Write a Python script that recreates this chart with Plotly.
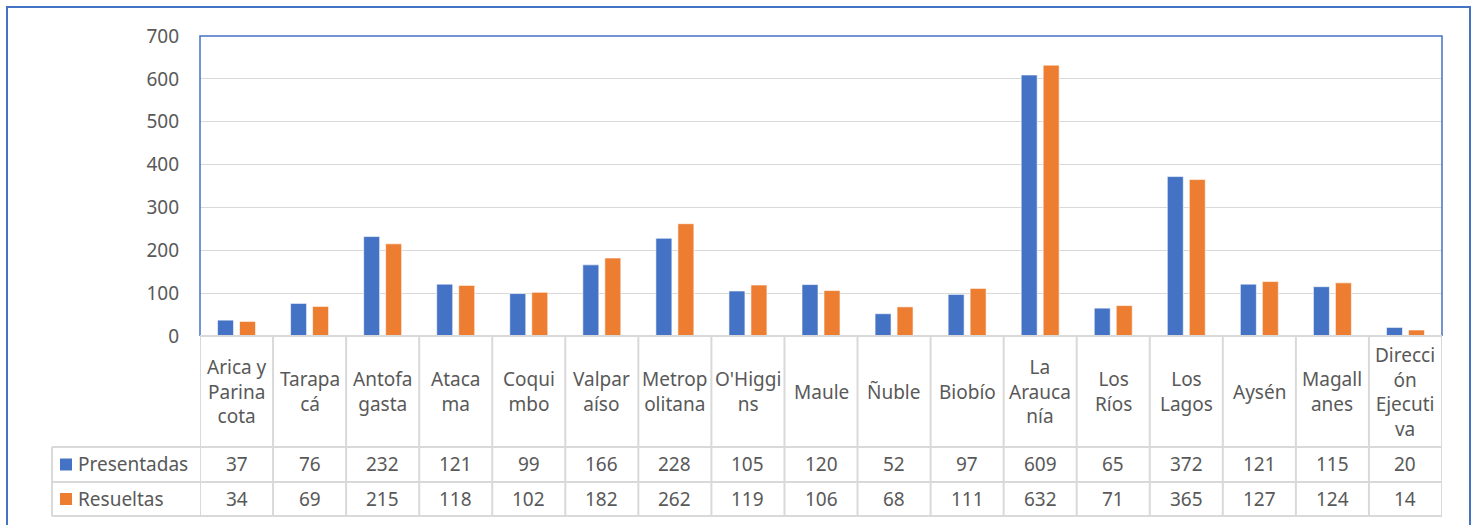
import plotly.graph_objects as go

categories = ["Arica y Parinacota", "Tarapacá", "Antofagasta", "Atacama", "Coquimbo",
              "Valparaíso", "Metropolitana", "O'Higgins", "Maule", "Ñuble", "Biobío",
              "La Araucanía", "Los Ríos", "Los Lagos", "Aysén", "Magallanes",
              "Dirección Ejecutiva"]
category_labels = ["Arica y<br>Parina<br>cota", "Tarapa<br>cá", "Antofa<br>gasta", "Ataca<br>ma",
                   "Coqui<br>mbo", "Valpar<br>aíso", "Metrop<br>olitana", "O'Higgi<br>ns", "Maule",
                   "Ñuble", "Biobío", "La<br>Arauca<br>nía", "Los<br>Ríos", "Los<br>Lagos", "Aysén",
                   "Magall<br>anes", "Direcci<br>ón<br>Ejecuti<br>va"]
presentadas = [37, 76, 232, 121, 99, 166, 228, 105, 120, 52, 97, 609, 65, 372, 121, 115, 20]
resueltas = [34, 69, 215, 118, 102, 182, 262, 119, 106, 68, 111, 632, 71, 365, 127, 124, 14]
series_names = ["Presentadas", "Resueltas"]
y_ticks = [0, 100, 200, 300, 400, 500, 600, 700]

BLUE = "#4472C4"
ORANGE = "#ED7D31"
GRID = "#D9D9D9"
TEXT = "#595959"
FONT = "Noto Sans"
FS = 19

W, H = 1477, 525
ML, MR, MT, MB = 200, 35, 36, 189
PW = W - ML - MR
PH = H - MT - MB


def px_x(x):
    return (x - ML) / PW


def px_y(y):
    return (H - MB - y) / PH


fig = go.Figure()
fig.add_bar(x=categories, y=presentadas, name=series_names[0], marker_color=BLUE,
            marker_line=dict(color="white", width=0.6))
fig.add_bar(x=categories, y=resueltas, name=series_names[1], marker_color=ORANGE,
            marker_line=dict(color="white", width=0.6))

shapes = []
annotations = []

# plot area border (left, top, right) in blue
shapes.append(dict(type="path", xref="paper", yref="paper",
                   path="M 0,0 L 0,1 L 1,1 L 1,0", line=dict(color=BLUE, width=1.5)))
# outer chart border
shapes.append(dict(type="rect", xref="paper", yref="paper",
                   x0=px_x(7), x1=px_x(1470), y0=px_y(560), y1=px_y(7),
                   line=dict(color=BLUE, width=2)))

# data table geometry (pixel rows)
row_top = H - MB
row_cat = 447
row_p = 482
row_r = 516
tbl_left = 52
n = len(categories)

# horizontal lines
shapes.append(dict(type="line", xref="x", yref="paper", x0=-0.5, x1=n - 0.5,
                   y0=px_y(row_top), y1=px_y(row_top), line=dict(color=GRID, width=2)))
for yy in [row_cat, row_p, row_r]:
    shapes.append(dict(type="line", xref="paper", yref="paper", x0=px_x(tbl_left), x1=1,
                       y0=px_y(yy), y1=px_y(yy), line=dict(color=GRID, width=2)))
# vertical lines
for i in range(n + 1):
    shapes.append(dict(type="line", xref="x", yref="paper", x0=i - 0.5, x1=i - 0.5,
                       y0=px_y(row_top), y1=px_y(row_r), line=dict(color=GRID, width=2)))
shapes.append(dict(type="line", xref="paper", yref="paper", x0=px_x(tbl_left), x1=px_x(tbl_left),
                   y0=px_y(row_cat), y1=px_y(row_r), line=dict(color=GRID, width=2)))

font = dict(family=FONT, size=FS, color=TEXT)
cat_mid = px_y((row_top + row_cat) / 2)
p_mid = px_y((row_cat + row_p) / 2)
r_mid = px_y((row_p + row_r) / 2)
for cat, lab, pv, rv in zip(categories, category_labels, presentadas, resueltas):
    annotations.append(dict(x=cat, xref="x", y=cat_mid, yref="paper", text=lab,
                            showarrow=False, font=font, align="center", yanchor="middle"))
    annotations.append(dict(x=cat, xref="x", y=p_mid, yref="paper", text=str(pv),
                            showarrow=False, font=font, yanchor="middle"))
    annotations.append(dict(x=cat, xref="x", y=r_mid, yref="paper", text=str(rv),
                            showarrow=False, font=font, yanchor="middle"))

# series labels with legend keys
for name, color, mid in [(series_names[0], BLUE, (row_cat + row_p) / 2),
                         (series_names[1], ORANGE, (row_p + row_r) / 2)]:
    shapes.append(dict(type="rect", xref="paper", yref="paper",
                       x0=px_x(60), x1=px_x(72), y0=px_y(mid + 6), y1=px_y(mid - 6),
                       fillcolor=color, line=dict(width=0)))
    annotations.append(dict(x=px_x(76), xref="paper", y=px_y(mid), yref="paper", text=name,
                            showarrow=False, font=font, xanchor="left", yanchor="middle"))

fig.update_layout(
    width=W, height=H,
    margin=dict(l=ML, r=MR, t=MT, b=MB, pad=0),
    paper_bgcolor="white", plot_bgcolor="white",
    barmode="group", bargap=0.398, bargroupgap=0.273,
    showlegend=False,
    shapes=shapes, annotations=annotations,
    font=font,
)
fig.update_xaxes(showticklabels=False, showgrid=False, zeroline=False, showline=False,
                 range=[-0.5, n - 0.5])
fig.update_yaxes(range=[0, 700], tickvals=y_ticks, showgrid=True, gridcolor=GRID, gridwidth=1,
                 zeroline=False, showline=False, ticks="", ticklabelstandoff=20,
                 tickfont=dict(family=FONT, size=FS, color=TEXT))

fig.write_html("out.html", config={"displayModeBar": False},
               post_script="document.body.style.margin='0';document.body.style.overflow='hidden';")
